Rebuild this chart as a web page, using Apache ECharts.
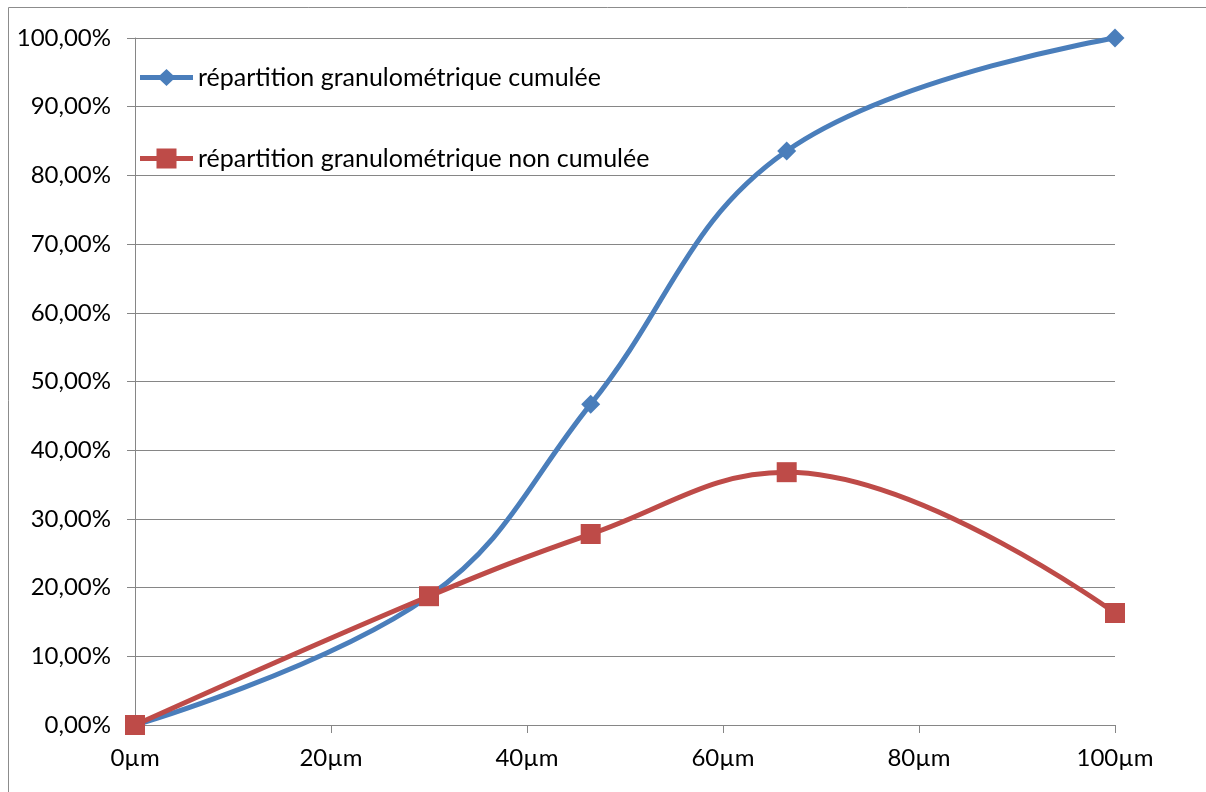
<!DOCTYPE html>
<html>
<head>
<meta charset="utf-8">
<script src="https://cdn.jsdelivr.net/npm/echarts@6/dist/echarts.min.js"></script>
<style>
  html, body { margin: 0; padding: 0; background: #fff; }
  #chart { width: 1206px; height: 792px; }
</style>
</head>
<body>
<div id="chart"></div>
<script>
// Particle sizes (µm) and the share of material for each size class
const sizes = [0, 30, 46.5, 66.5, 100];
const cumulee = [0, 0.1875, 0.467, 0.8355, 1.0];
const nonCumulee = [0, 0.1875, 0.278, 0.368, 0.163];
const seriesNames = ['répartition granulométrique cumulée', 'répartition granulométrique non cumulée'];

const FONT = 'Lato';
const AXIS_GREY = '#868686';

// Legend keys: a thick line segment with the series marker in the middle
const ICON_DIAMOND = 'path://M0,7.5L53,7.5L53,12.5L0,12.5Z M26.5,1.5L35.5,10L26.5,18.5L17.5,10Z M0,0L0,0 M53,20L53,20';
const ICON_SQUARE = 'path://M0,7.5L53,7.5L53,12.5L0,12.5Z M16.5,0L36.5,0L36.5,20L16.5,20Z';

const pairs = (xs, ys) => xs.map((x, i) => [x, ys[i]]);

const chart = echarts.init(document.getElementById('chart'));
chart.setOption({
  animation: false,
  backgroundColor: '#fff',
  textStyle: { fontFamily: FONT },
  graphic: [{
    type: 'rect',
    shape: { x: 8.5, y: 7.5, width: 1220, height: 820 },
    style: { fill: 'none', stroke: '#8c8c8c', lineWidth: 1 },
    silent: true,
    z: -10
  }],
  grid: { left: 135, right: 91, top: 38, bottom: 67, containLabel: false },
  legend: {
    orient: 'vertical',
    left: 135,
    top: 60,
    itemGap: 56,
    itemWidth: 53,
    itemHeight: 20,
    textStyle: { fontFamily: FONT, fontSize: 25, color: '#000' },
    data: [
      { name: seriesNames[0], icon: ICON_DIAMOND },
      { name: seriesNames[1], icon: ICON_SQUARE }
    ]
  },
  xAxis: {
    type: 'value',
    min: 0, max: 100, interval: 20,
    axisLine: { show: true, lineStyle: { color: AXIS_GREY, width: 1 } },
    axisTick: { show: true, length: 8, lineStyle: { color: AXIS_GREY } },
    splitLine: { show: false },
    axisLabel: { formatter: '{value}µm', fontSize: 24, color: '#000', margin: 21, fontFamily: FONT }
  },
  yAxis: {
    type: 'value',
    min: 0, max: 1, interval: 0.1,
    axisLine: { show: true, lineStyle: { color: AXIS_GREY, width: 1 } },
    axisTick: { show: true, length: 8, lineStyle: { color: AXIS_GREY } },
    splitLine: { show: true, lineStyle: { color: AXIS_GREY, width: 1 } },
    axisLabel: {
      formatter: v => (v * 100).toFixed(2).replace('.', ',') + '%',
      fontSize: 24, color: '#000', margin: 24, fontFamily: FONT
    }
  },
  series: [
    {
      name: seriesNames[0],
      type: 'line',
      data: pairs(sizes, cumulee),
      smooth: 0.4,
      symbol: 'diamond',
      symbolSize: 19,
      lineStyle: { color: '#4A7EBB', width: 5 },
      itemStyle: { color: '#4A7EBB' },
      z: 2
    },
    {
      name: seriesNames[1],
      type: 'line',
      data: pairs(sizes, nonCumulee),
      smooth: 0.4,
      symbol: 'rect',
      symbolSize: 20,
      lineStyle: { color: '#BE4B48', width: 5 },
      itemStyle: { color: '#BE4B48' },
      z: 3
    }
  ]
});
</script>
</body>
</html>
